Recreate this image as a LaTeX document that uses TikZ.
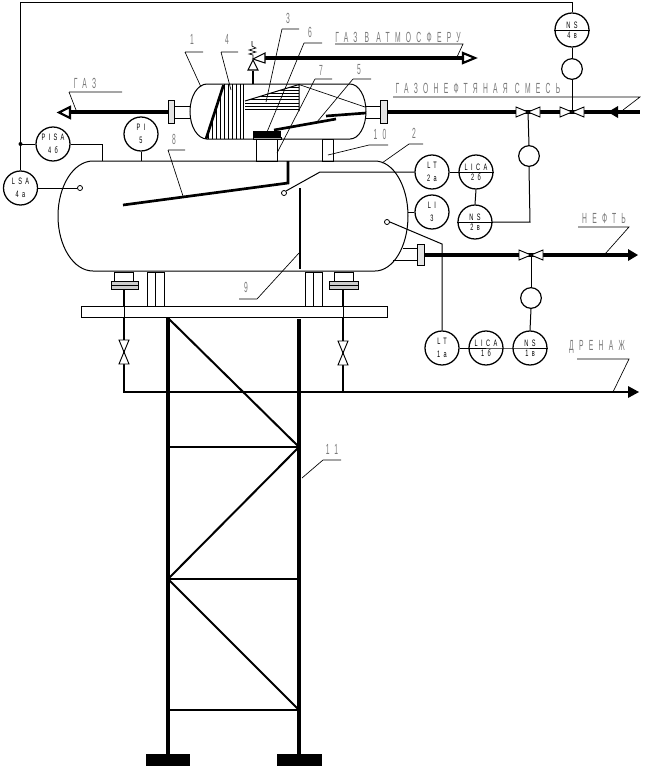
\documentclass[tikz,border=0pt]{standalone}
\usepackage{fontspec}
\newfontfamily\labf[FakeStretch=0.46,LetterSpace=36]{Liberation Sans}
\newfontfamily\instf[FakeStretch=0.6,LetterSpace=36]{Liberation Sans}
\usetikzlibrary{calc}
\tikzset{
  thinl/.style={line width=0.75pt},
  leader/.style={line width=0.5pt},
  thickl/.style={line width=2.3pt},
  drainl/.style={line width=1.7pt},
  heavy/.style={line width=2pt},
  leg/.style={line width=3.6pt},
  brace/.style={line width=1.5pt},
  inst/.style={circle,draw,line width=0.95pt,fill=white,minimum size=25.5pt,inner sep=0pt,align=center,
     font=\instf\fontsize{7}{9.6}\selectfont},
  instsplit/.style={inst,font=\instf\fontsize{7}{7.2}\selectfont},
  sc/.style={circle,draw,line width=0.9pt,fill=white,minimum size=15.5pt,inner sep=0pt},
  tiny/.style={circle,draw,line width=0.6pt,fill=white,minimum size=3.8pt,inner sep=0pt},
  lab/.style={inner sep=0pt,text=black!52,font=\labf\fontsize{11}{11}\selectfont},
  hollow/.style={draw,line width=1.6pt,fill=white,line join=miter},
  valve/.style={draw,line width=0.7pt,fill=white}
}
\newcommand{\valveH}[2]{\draw[valve] (#1-12,#2-5) -- (#1+12,#2+5) -- (#1+12,#2-5) -- (#1-12,#2+5) -- cycle;}
\newcommand{\valveV}[2]{\draw[valve] (#1-5,#2-12) -- (#1+5,#2+12) -- (#1-5,#2+12) -- (#1+5,#2-12) -- cycle;}
\begin{document}
\begin{tikzpicture}[x=0.75pt,y=-0.75pt]
\useasboundingbox (0,0) rectangle (650,769);
\fill[white] (0,0) rectangle (650,769);

% tower
\draw[leg] (168,318) -- (168,756);
\draw[leg] (299,319) -- (299,756);
\fill (146,754) rectangle (190,766);
\fill (277,754) rectangle (322,766);
\draw[brace] (168,447) -- (299,447);
\draw[brace] (168,579) -- (299,579);
\draw[brace] (168,710) -- (299,710);
\draw[brace] (168,318) -- (299,447) -- (168,579) -- (299,710);

% drain
\draw[drainl] (124,289) -- (124,392) -- (629,392);
\draw[drainl] (343,289) -- (343,392);
\fill (639,392) -- (628,386) -- (628,398) -- cycle;
\valveV{124}{352}
\valveV{343}{353}

% platform and supports
\draw[thinl,fill=white] (81,306) rectangle (387,317);
\draw[thinl] (124,306) -- (124,317) (343,306) -- (343,317);
\draw[thinl] (147,272) rectangle (164,306) (155,272) -- (155,306);
\draw[thinl] (305,272) rectangle (322,306) (313,272) -- (313,306);
% drain nozzles
\draw[thinl,fill=white] (114,272) rectangle (133,281);
\draw[thinl,fill=black!20] (111,281) rectangle (138,289);
\draw[thinl] (111,285) -- (138,285);
\draw[thinl,fill=white] (334,272) rectangle (353,281);
\draw[thinl,fill=black!20] (329,281) rectangle (358,289);
\draw[thinl] (329,285) -- (358,285);

% big vessel
\draw[thinl,fill=white] (93,161) -- (375,161) arc[start angle=-90,end angle=90,x radius=33,y radius=55]
   -- (93,271) arc[start angle=90,end angle=270,x radius=35,y radius=55] -- cycle;
\draw[heavy] (288,161) -- (288,183) -- (123,205);
\draw[heavy] (300,188) -- (300,269);

% nozzles between vessels
\draw[thinl] (256,139) rectangle (277,161);
\draw[thinl] (322,139) rectangle (333,161);

% gas mix line
\draw[thickl] (387,112) -- (640,112);
\fill (608,112) -- (618,106) -- (618,118) -- cycle;
% left gas line
\draw[thickl] (168,112) -- (70,112);
\draw[hollow] (70,107) -- (70,118) -- (59,112.5) -- cycle;
% atmosphere line
\draw[thickl] (265,58) -- (464,58);
\draw[hollow] (463,53) -- (463,63) -- (475,58) -- cycle;

% small vessel stubs and flanges
\draw[thinl] (174,106) -- (192,106) (174,118) -- (192,118);
\draw[thinl] (364,106) -- (380,106) (364,118) -- (380,118);
\draw[thinl,fill=black!10] (168,100) rectangle (174,123) (380,100) rectangle (387,123);
% small vessel
\draw[thinl,fill=white] (207,84) -- (350,84) arc[start angle=-90,end angle=90,x radius=16,y radius=27.5]
   -- (207,139) arc[start angle=90,end angle=270,x radius=17,y radius=27.5] -- cycle;
% vertical hatch
\begin{scope}
\clip (223.5,84) -- (244,84) -- (244,139) -- (206,139) -- cycle;
\foreach \xx in {208,212,...,240,243.5} \draw[line width=0.6pt] (\xx,84) -- (\xx,139);
\end{scope}
\draw[line width=2pt] (223.5,85) -- (206,139);
% horizontal hatch
\begin{scope}
\clip (245,101) -- (299,84.5) -- (299,111.5) -- (245,111.5) -- cycle;
\foreach \yy in {87,90.2,...,111.5} \draw[line width=0.6pt] (245,\yy) -- (299,\yy);
\end{scope}
\draw[thinl] (245,101) -- (299,84.5) -- (299,111);
\draw[leader] (299,84.5) -- (365,107);
% internals
\draw[heavy] (326,116) -- (366,113);
\draw[heavy] (274,130) -- (336,119);
\fill (253,131) rectangle (281,137.5);
\draw[line width=0.5pt] (253,137.5) rectangle (281,139);

% relief valve
\draw[line width=1.2pt] (253,84) -- (253,71);
\draw[valve,line width=0.8pt] (248,70) -- (258,70) -- (253,60) -- cycle;
\draw[valve,line width=0.8pt] (253,59) -- (265,53) -- (265,63) -- cycle;
\draw[line width=0.5pt] (253,59) -- (253,55) -- (249,54) -- (256,52) -- (249,50) -- (256,48) -- (252,46) -- (252,41);

% instruments
\node[inst] (pisa) at (53,144) {PISA\\4б};
\node[inst] (lsa) at (20.5,188) {LSA\\4а};
\node[inst] (pi) at (141,134) {PI\\5};
\node[inst] (lt2) at (432,172) {LT\\2а};
\node[inst] (li3) at (432,212) {LI\\3};
\node[instsplit] (lica2) at (476,172) {LICA\\2б};
\node[instsplit] (ns2) at (475,222) {NS\\2в};
\node[inst] (lt1) at (442,348) {LT\\1а};
\node[instsplit] (lica1) at (486,348) {LICA\\1б};
\node[instsplit] (ns1) at (530,348) {NS\\1в};
\node[instsplit] (ns4) at (572,30) {NS\\4в};
\node[sc] (c4) at (572,69) {};
\node[sc] (c2) at (529,156) {};
\node[sc] (c1) at (531,298) {};
\node[tiny] (t1) at (80,188) {};
\node[tiny] (t2) at (284,193) {};
\node[tiny] (t3) at (387,222) {};
\coordinate (v4) at (572,112);
\coordinate (v2) at (528,112);
\coordinate (v1) at (531,255);

% instrument lines
\draw[thinl] (lsa.north) -- (20.5,2) -- (572,2) -- (ns4.north);
\draw[thinl] (ns4.south) -- (c4.north);
\draw[thinl] (c4.south) -- (v4);
\draw[thinl] (ns4.west) -- (ns4.east);
\draw[thinl] (pisa.west) -- (20.5,144);
\fill (20.5,144) circle[radius=2];
\draw[thinl] (pisa.east) -- (102,144) -- (102,161);
\draw[thinl] (pi.south) -- (141,161);
\draw[thinl] (lsa.east) -- (t1.west);
\draw[thinl] (lt2.west) -- (320,172) -- (t2.north east);
\draw[thinl] (lt2.east) -- (lica2.west);
\draw[thinl] (lica2.west) -- (lica2.east);
\draw[thinl] (lica2.south) -- (ns2.north);
\draw[thinl] (ns2.west) -- (ns2.east);
\draw[thinl] (ns2.east) -- (530,222) -- (c2.south);
\draw[thinl] (c2.north) -- (v2);
\draw[thinl] (li3.west) -- (408,212);
\draw[thinl] (lt1.north) -- (442,244) -- (t3.east);
\draw[thinl] (lt1.east) -- (lica1.west);
\draw[thinl] (lica1.west) -- (lica1.east) -- (ns1.west) -- (ns1.east);
\draw[thinl] (ns1.north) -- (c1.south);
\draw[thinl] (c1.north) -- (v1);

% oil line
\draw[thinl] (403,248) -- (417,248) (393,260.5) -- (417,260.5);
\draw[thickl] (424,255) -- (629,255);
\fill (638,255) -- (628,249) -- (628,261) -- cycle;
\draw[thinl,fill=black!10] (417,244) rectangle (424,265);

% valves on lines
\valveH{528}{112}
\valveH{572}{112}
\valveH{531}{255}

% leaders
\draw[leader] (185,52) -- (203,52) (185,52) -- (201,87);
\draw[leader] (221,52) -- (238,52) (221,52) -- (231,90);
\draw[leader] (282,29) -- (299,29) (282,29) -- (266,102);
\draw[leader] (304,43) -- (322,43) (304,43) -- (267,132);
\draw[leader] (315,79) -- (332,79) (315,79) -- (277,153);
\draw[leader] (353,79) -- (371,79) (353,79) -- (317,122);
\draw[leader] (369,145) -- (388,145) (369,145) -- (328,155);
\draw[leader] (409,144) -- (423,144) (409,144) -- (382,163);
\draw[leader] (168,150) -- (185,150) (168,150) -- (183,196);
\draw[leader] (239,299) -- (257,299) -- (299,253);
\draw[leader] (323,460) -- (341,460) (323,460) -- (302,478);
\draw[leader] (69,92) -- (122,92) (69,92) -- (76,110);
\draw[leader] (335,44) -- (463,44) -- (457,57);
\draw[leader] (393,97) -- (640,97) -- (623,110);
\draw[leader] (578,227) -- (629,227) -- (605,254);
\draw[leader] (577,359) -- (629,359) -- (613,392);

% labels
\node[lab] (n1) at (192,39) {1};
\node[lab] (n4) at (227,39) {4};
\node[lab] (n3) at (288,18) {3};
\node[lab] (n6) at (310,32) {6};
\node[lab] (n7) at (321,70) {7};
\node[lab] (n5) at (359,70) {5};
\node[lab] (n10) at (380,134) {10};
\node[lab] (n2) at (414,133) {2};
\node[lab] (n8) at (174,139) {8};
\node[lab] (n9) at (246,287) {9};
\node[lab] (n11) at (332,449) {11};
\node[lab] (gaz) at (85,83) {ГАЗ};
\node[lab] (gazatm) at (398,37) {ГАЗ В АТМОСФЕРУ};
\node[lab] (mix) at (478,88) {ГАЗОНЕФТЯНАЯ СМЕСЬ};
\node[lab] (oil) at (604,218) {НЕФТЬ};
\node[lab] (drn) at (597,347) {ДРЕНАЖ};
\end{tikzpicture}
\end{document}
